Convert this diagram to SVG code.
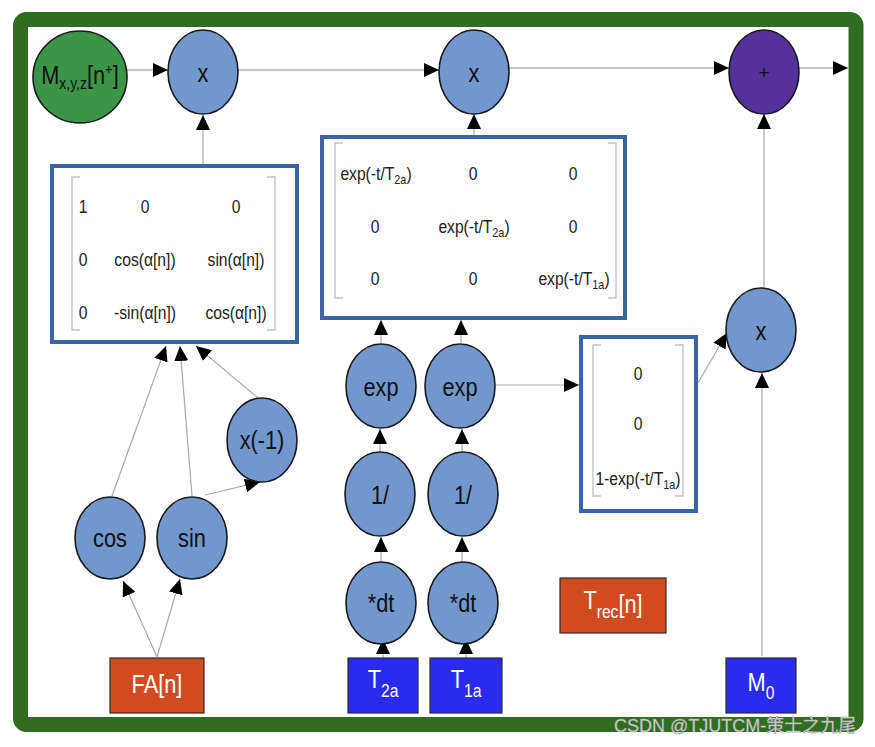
<svg xmlns="http://www.w3.org/2000/svg" width="875" height="747" viewBox="0 0 875 747">
<defs>
<marker id="ah" markerUnits="userSpaceOnUse" markerWidth="16" markerHeight="14" refX="15" refY="7" orient="auto">
<path d="M0,0 L15,7 L0,14 z" fill="#000"/>
</marker>
<style>
text{font-family:"Liberation Sans",Arial,sans-serif;}
.sq{transform-box:fill-box;transform-origin:center;transform:scaleX(0.87);}
.node{fill:#7197cd;stroke:#1a1a1a;stroke-width:1.6;}
.lbl{font-size:25px;fill:#111;text-anchor:middle;}
.mat{fill:#fff;stroke:#3c64a8;stroke-width:4;}
.brk{fill:none;stroke:#c4c4c4;stroke-width:1.4;}
.mt{font-size:18px;fill:#222;text-anchor:middle;}
.src{stroke:#2a2a2a;stroke-width:1.2;}
.wl{font-size:25px;fill:#fff;text-anchor:middle;}
.conn line{stroke:#aaaaaa;stroke-width:1.2;marker-end:url(#ah);}
.conn line.dk{stroke:#8a8a8a;}
</style>
</defs>
<rect x="0" y="0" width="875" height="747" fill="#fff"/>
<rect x="20.5" y="19.5" width="835.5" height="705" rx="6" fill="#fff" stroke="#2f6e20" stroke-width="15"/>

<g class="conn" id="connectors">
<line class="dk" x1="127" y1="70" x2="168" y2="70"/>
<line class="dk" x1="238" y1="70" x2="439" y2="70"/>
<line class="dk" x1="509" y1="68" x2="729" y2="68"/>
<line class="dk" x1="799" y1="68" x2="848" y2="68"/>
<line x1="203" y1="164" x2="203" y2="115"/>
<line x1="474" y1="135" x2="474" y2="114"/>
<line x1="764" y1="288" x2="764" y2="114"/>
<line x1="762" y1="656" x2="762" y2="373"/>
<line x1="698" y1="383" x2="727" y2="333"/>
<line x1="496" y1="385" x2="579" y2="385"/>
<line x1="381" y1="343" x2="381" y2="320"/>
<line x1="461" y1="343" x2="461" y2="320"/>
<line x1="380" y1="452" x2="380" y2="429"/>
<line x1="462" y1="452" x2="462" y2="429"/>
<line x1="381" y1="562" x2="381" y2="537"/>
<line x1="462" y1="562" x2="462" y2="537"/>
<line x1="383" y1="658" x2="383" y2="639"/>
<line x1="466" y1="658" x2="466" y2="639"/>
<line x1="157" y1="657" x2="123" y2="581"/>
<line x1="157" y1="657" x2="180" y2="579"/>
<line x1="112" y1="496" x2="166" y2="346"/>
<line x1="192" y1="496" x2="180" y2="346"/>
<line x1="258" y1="398" x2="196" y2="346"/>
<line x1="205" y1="495" x2="260" y2="482"/>
</g>

<g id="M">
<ellipse cx="80" cy="77" rx="47" ry="46" fill="#3b9547" stroke="#1a1a1a" stroke-width="1.6"/>
<text class="lbl sq" x="80" y="84">M<tspan font-size="16" dy="5">x,y,z</tspan><tspan dy="-5">[n</tspan><tspan font-size="15" dy="-10">+</tspan><tspan dy="10">]</tspan></text>
</g>
<g id="mul1"><ellipse class="node" cx="203" cy="72" rx="35" ry="42"/><text class="lbl sq" x="203" y="82">x</text></g>
<g id="mul2"><ellipse class="node" cx="474" cy="72" rx="35" ry="42"/><text class="lbl sq" x="474" y="82">x</text></g>
<g id="plus"><ellipse cx="764" cy="72" rx="35" ry="42" fill="#55309a" stroke="#1a1a1a" stroke-width="1.6"/><text x="764" y="79" font-size="19" fill="#111" text-anchor="middle">+</text></g>
<g id="mul3"><ellipse class="node" cx="761" cy="330" rx="35" ry="42"/><text class="lbl sq" x="761" y="340">x</text></g>

<g id="rotMatrix">
<rect class="mat" x="52" y="166" width="245" height="176"/>
<path class="brk" d="M80,177 H72 V330 H80 M267,177 H275 V330 H267"/>
<text class="mt sq" x="83" y="213">1</text><text class="mt sq" x="145" y="213">0</text><text class="mt sq" x="236" y="213">0</text>
<text class="mt sq" x="83" y="266">0</text><text class="mt sq" x="145" y="266">cos(α[n])</text><text class="mt sq" x="236" y="266">sin(α[n])</text>
<text class="mt sq" x="83" y="319">0</text><text class="mt sq" x="145" y="319">-sin(α[n])</text><text class="mt sq" x="236" y="319">cos(α[n])</text>
</g>

<g id="relaxMatrix">
<rect class="mat" x="322" y="137" width="303" height="181"/>
<path class="brk" d="M343,143 H335 V298 H343 M608,143 H616 V298 H608"/>
<text class="mt sq" x="376" y="180">exp(-t/T<tspan font-size="12.5" dy="4">2a</tspan><tspan dy="-4">)</tspan></text>
<text class="mt sq" x="473" y="180">0</text><text class="mt sq" x="573" y="180">0</text>
<text class="mt sq" x="375" y="233">0</text>
<text class="mt sq" x="474" y="233">exp(-t/T<tspan font-size="12.5" dy="4">2a</tspan><tspan dy="-4">)</tspan></text>
<text class="mt sq" x="573" y="233">0</text>
<text class="mt sq" x="375" y="285">0</text><text class="mt sq" x="473" y="285">0</text>
<text class="mt sq" x="574" y="285">exp(-t/T<tspan font-size="12.5" dy="4">1a</tspan><tspan dy="-4">)</tspan></text>
</g>

<g id="recVector">
<rect class="mat" x="581" y="337" width="115" height="174"/>
<path class="brk" d="M601,345 H593 V496 H601 M675,345 H683 V496 H675"/>
<text class="mt sq" x="638" y="380">0</text>
<text class="mt sq" x="638" y="430">0</text>
<text class="mt sq" x="638" y="485">1-exp(-t/T<tspan font-size="12.5" dy="4">1a</tspan><tspan dy="-4">)</tspan></text>
</g>

<g id="exp1"><ellipse class="node" cx="381" cy="386" rx="35" ry="42"/><text class="lbl sq" x="381" y="396">exp</text></g>
<g id="exp2"><ellipse class="node" cx="460" cy="386" rx="35" ry="42"/><text class="lbl sq" x="460" y="396">exp</text></g>
<g id="inv1"><ellipse class="node" cx="380" cy="494" rx="35" ry="42"/><text class="lbl sq" x="380" y="504">1/</text></g>
<g id="inv2"><ellipse class="node" cx="463" cy="494" rx="35" ry="42"/><text class="lbl sq" x="463" y="504">1/</text></g>
<g id="dt1"><ellipse class="node" cx="381" cy="603" rx="35" ry="41"/><text class="lbl sq" x="381" y="612">*dt</text></g>
<g id="dt2"><ellipse class="node" cx="463" cy="603" rx="35" ry="41"/><text class="lbl sq" x="463" y="612">*dt</text></g>

<g id="cos"><ellipse class="node" cx="110" cy="538" rx="35" ry="41"/><text class="lbl sq" x="110" y="547">cos</text></g>
<g id="sin"><ellipse class="node" cx="192" cy="538" rx="35" ry="41"/><text class="lbl sq" x="192" y="547">sin</text></g>
<g id="neg"><ellipse class="node" cx="262" cy="440" rx="35" ry="42"/><text class="lbl sq" x="262" y="449">x(-1)</text></g>

<g id="FA"><rect class="src" x="110" y="658" width="94" height="55" fill="#d24b20"/><text class="wl sq" x="157" y="693">FA[n]</text></g>
<g id="T2a"><rect class="src" x="348" y="658" width="70" height="55" fill="#2b2bef"/><text class="wl sq" x="383" y="688">T<tspan font-size="18" dy="9">2a</tspan></text></g>
<g id="T1a"><rect class="src" x="430" y="658" width="72" height="55" fill="#2b2bef"/><text class="wl sq" x="466" y="688">T<tspan font-size="18" dy="9">1a</tspan></text></g>
<g id="Trec"><rect class="src" x="560" y="578" width="106" height="55" fill="#d24b20"/><text class="wl sq" x="613" y="609">T<tspan font-size="18" dy="9">rec</tspan><tspan dy="-5">[n]</tspan></text></g>
<g id="M0"><rect class="src" x="726" y="658" width="70" height="55" fill="#2b2bef"/><text class="wl sq" x="761" y="691">M<tspan font-size="18" dy="8">0</tspan></text></g>

<text x="614" y="732" font-size="18" fill="#d6d6d6" stroke="#9a9a9a" stroke-width="0.4" style="font-family:'Liberation Sans','Noto Sans CJK SC',sans-serif">CSDN @TJUTCM-策士之九尾</text>
</svg>
